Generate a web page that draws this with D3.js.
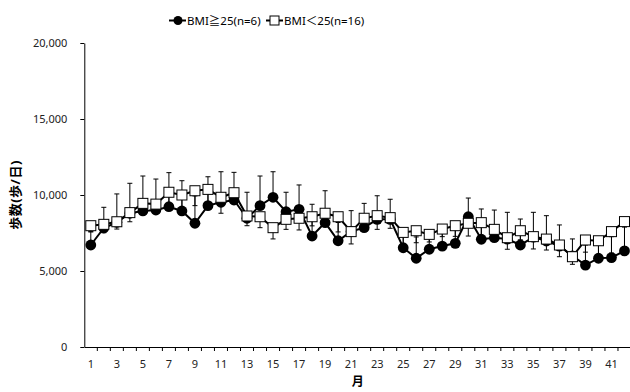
<!DOCTYPE html>
<html>
<head>
<meta charset="utf-8">
<script src="https://cdn.jsdelivr.net/npm/d3@7"></script>
<style>
  body { margin: 0; background: #fff; }
  text { font-family: "Noto Sans", "Noto Sans CJK JP", sans-serif; }
</style>
</head>
<body>
<div class="displayArea"></div>
<script>
// 月 (1..42)
const months = d3.range(1, 43);

// BMI≧25 (n=6): 平均と上側SD
const highMean = [6710, 7830, 8200, 8800, 8950, 9010, 9230, 8950, 8140, 9300,
    9520, 9670, 8470, 9300, 9850, 8900, 9060, 7300, 8180, 6990,
    7600, 7850, 8400, 8400, 6530, 5840, 6430, 6640, 6820, 8570,
    7090, 7190, 7100, 6710, 7230, 6970, 6640, 6000, 5390, 5840,
    5880, 6320];
const highSD = [860, 1360, 1870, 1970, 2300, 2040, 2240, 1990, 1800, 1900,
    2010, 1820, 1710, 1950, 1680, 1280, 1600, 2090, 2100, 1200,
    1370, 1600, 1550, 1320, 800, 1400, 800, 900, 900, 1230,
    1990, 1820, 1760, 1710, 1630, 1670, 1390, 1110, 1320, 870,
    1380, 1570];

// BMI<25 (n=16): 平均と下側SD
const lowMean = [7980, 8070, 8240, 8840, 9450, 9400, 10180, 10000, 10280, 10370,
    9850, 10150, 8620, 8570, 7850, 8400, 8470, 8570, 8800, 8570,
    7590, 8470, 8640, 8510, 7540, 7650, 7410, 7760, 7980, 8140,
    8180, 7740, 7190, 7650, 7260, 7100, 6710, 5940, 7040, 6990,
    7590, 8250];
const lowSD = [390, 550, 480, 600, 500, 500, 800, 900, 980, 1000,
    1050, 500, 640, 720, 740, 660, 770, 600, 800, 1000,
    810, 700, 900, 700, 1000, 790, 500, 500, 700, 840,
    900, 600, 760, 600, 810, 720, 770, 500, 800, 940,
    1410, 1650];

const yTicks = [0, 5000, 10000, 15000, 20000];
const xTickLabels = months.filter(m => m % 2 === 1);

const legendLabels = ["BMI≧25(n=6)", "BMI＜25(n=16)"];
const yTitle = "歩数(歩/日)";
const xTitle = "月";

const W = 630, H = 392;
const plotL = 84.3, plotR = 631, plotT = 43, plotB = 347;

const svg = d3.select(".displayArea").append("svg")
    .attr("width", W)
    .attr("height", H);

const x = d3.scaleBand()
    .domain(months)
    .range([plotL, plotR])
    .padding(0);
const cx = m => x(m) + x.bandwidth() / 2;

const y = d3.scaleLinear()
    .domain([0, 20000])
    .range([plotB, plotT]);

// Y軸
const yAxis = svg.append("g")
    .attr("transform", `translate(${plotL},0)`)
    .call(d3.axisLeft(y)
        .tickValues(yTicks)
        .tickFormat(d3.format(","))
        .tickSize(4)
        .tickPadding(13)
        .tickSizeOuter(0));
yAxis.select(".domain").attr("stroke", "#000");
yAxis.selectAll("text").attr("font-size", 11).attr("fill", "#222");

// X軸
const xAxis = svg.append("g")
    .attr("transform", `translate(0,${plotB})`)
    .call(d3.axisBottom(x)
        .tickValues(xTickLabels)
        .tickSize(0)
        .tickPadding(13)
        .tickSizeOuter(0));
xAxis.select(".domain").attr("stroke", "#000");
xAxis.selectAll("text").attr("font-size", 11).attr("fill", "#222");

// 区切り目盛
svg.append("g").selectAll("line")
    .data(months.slice(1))
    .enter()
    .append("line")
    .attr("x1", d => x(d))
    .attr("x2", d => x(d))
    .attr("y1", plotB)
    .attr("y2", plotB + 4)
    .attr("stroke", "#000");

// 軸タイトル
svg.append("text")
    .attr("transform", `translate(20,${(plotT + plotB) / 2}) rotate(-90)`)
    .attr("text-anchor", "middle")
    .attr("font-size", 13)
    .attr("font-weight", "bold")
    .attr("letter-spacing", 0.5)
    .text(yTitle);

svg.append("text")
    .attr("x", (plotL + plotR) / 2)
    .attr("y", 386)
    .attr("text-anchor", "middle")
    .attr("font-size", 12)
    .attr("font-weight", "bold")
    .text(xTitle);

const capW = 2.5;

function drawBars(mean, sd, dir) {
    const g = svg.append("g").attr("stroke", "#000").attr("stroke-width", 1);
    months.forEach((m, i) => {
        const y0 = y(mean[i]);
        const y1 = y(mean[i] + dir * sd[i]);
        g.append("line").attr("x1", cx(m)).attr("x2", cx(m)).attr("y1", y0).attr("y2", y1);
        g.append("line").attr("x1", cx(m) - capW).attr("x2", cx(m) + capW).attr("y1", y1).attr("y2", y1);
    });
}

const line = d3.line()
    .x(d => cx(d.m))
    .y(d => y(d.v));

// BMI≧25
drawBars(highMean, highSD, 1);
const highData = months.map((m, i) => ({ m, v: highMean[i] }));
svg.append("path")
    .datum(highData)
    .attr("d", line)
    .attr("fill", "none")
    .attr("stroke", "#000")
    .attr("stroke-width", 2);
svg.append("g").selectAll("circle")
    .data(highData)
    .enter()
    .append("circle")
    .attr("cx", d => cx(d.m))
    .attr("cy", d => y(d.v))
    .attr("r", 5.4)
    .attr("fill", "#000");

// BMI<25
drawBars(lowMean, lowSD, -1);
const lowData = months.map((m, i) => ({ m, v: lowMean[i] }));
svg.append("path")
    .datum(lowData)
    .attr("d", line)
    .attr("fill", "none")
    .attr("stroke", "#000")
    .attr("stroke-width", 2);
svg.append("g").selectAll("rect")
    .data(lowData)
    .enter()
    .append("rect")
    .attr("x", d => cx(d.m) - 5)
    .attr("y", d => y(d.v) - 5)
    .attr("width", 10)
    .attr("height", 10)
    .attr("fill", "#fff")
    .attr("stroke", "#000")
    .attr("stroke-width", 1);

// 凡例
const legend = svg.append("g").attr("transform", "translate(0,20.5)");
const legendX = [169, 266];
legendLabels.forEach((label, i) => {
    const g = legend.append("g").attr("transform", `translate(${legendX[i]},0)`);
    g.append("line").attr("x1", 0).attr("x2", 17).attr("stroke", "#000").attr("stroke-width", 2);
    if (i === 0) {
        g.append("circle").attr("cx", 9).attr("r", 4.5).attr("fill", "#000");
    } else {
        g.append("rect").attr("x", 4).attr("y", -4.5).attr("width", 9).attr("height", 9)
            .attr("fill", "#fff").attr("stroke", "#000");
    }
    g.append("text")
        .attr("x", 18)
        .attr("dy", "0.35em")
        .attr("font-size", 11.5)
        .text(label);
});
</script>
</body>
</html>
